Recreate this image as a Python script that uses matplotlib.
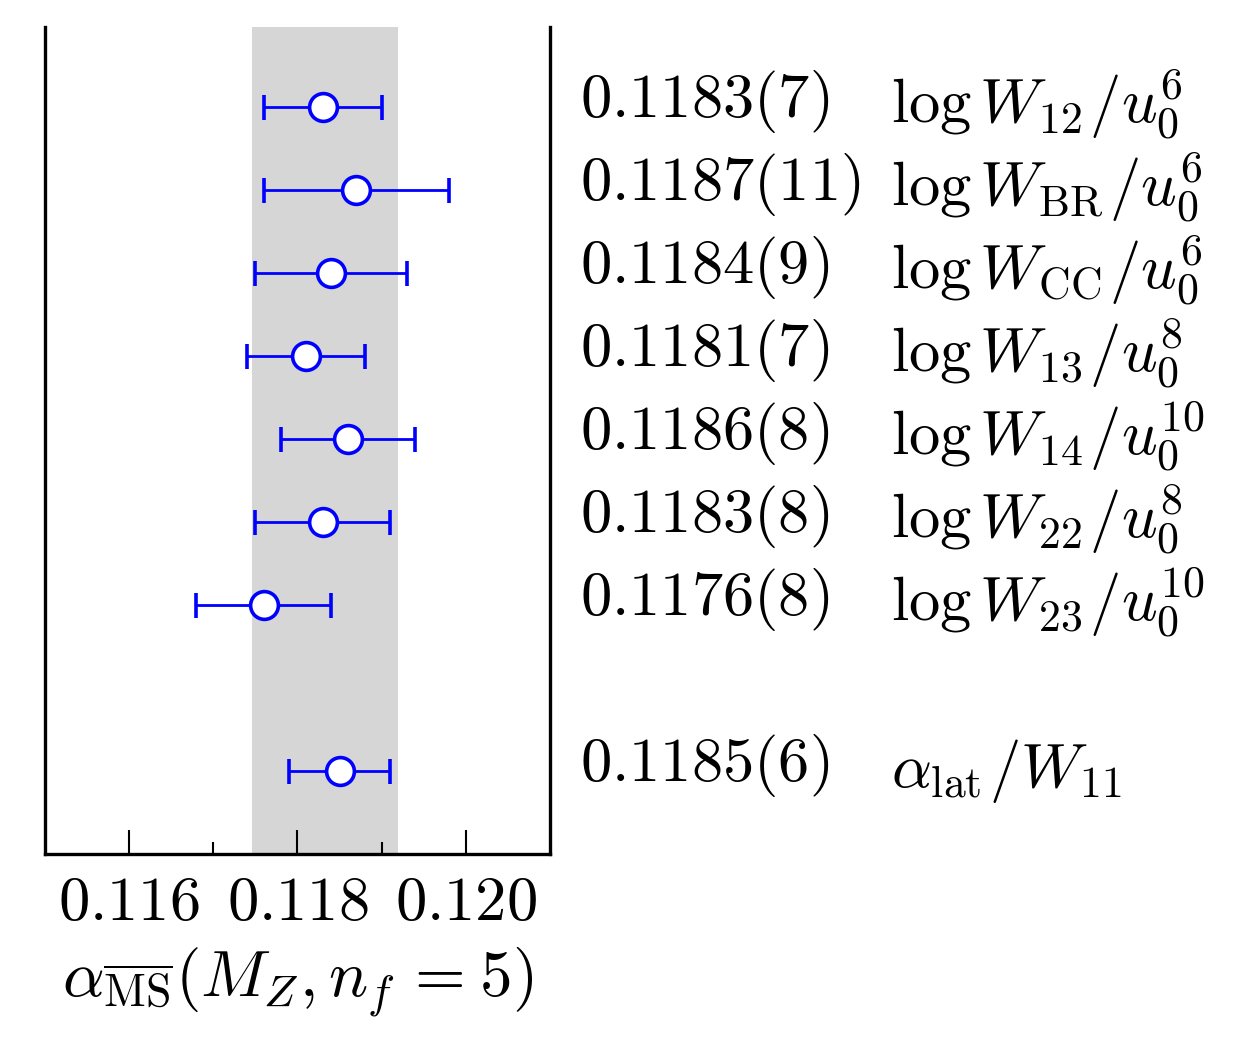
import matplotlib
matplotlib.use("Agg")
import matplotlib.pyplot as plt
import matplotlib.transforms as mtransforms

plt.rcParams['mathtext.fontset'] = 'cm'
plt.rcParams['font.family'] = ['DejaVu Serif']

# data
values = [0.1183, 0.1187, 0.1184, 0.1181, 0.1186, 0.1183, 0.1176, 0.1185]
errors = [0.0007, 0.0011, 0.0009, 0.0007, 0.0008, 0.0008, 0.0008, 0.0006]
rows = [9, 8, 7, 6, 5, 4, 3, 1]
value_labels = [r'$0.1183(7)$', r'$0.1187(11)$', r'$0.1184(9)$', r'$0.1181(7)$',
                r'$0.1186(8)$', r'$0.1183(8)$', r'$0.1176(8)$', r'$0.1185(6)$']
names = [r'$\log W_{12}\hspace{0.06}/u_0^6$', r'$\log W_{\mathrm{BR}}\hspace{0.06}/u_0^6$',
         r'$\log W_{\mathrm{CC}}\hspace{0.06}/u_0^6$', r'$\log W_{13}\hspace{0.06}/u_0^8$',
         r'$\log W_{14}\hspace{0.06}/u_0^{10}$', r'$\log W_{22}\hspace{0.06}/u_0^8$',
         r'$\log W_{23}\hspace{0.06}/u_0^{10}$', r'$\alpha_{\mathrm{lat}}\hspace{0.06}/W_{11}$']
band = (0.11746, 0.11919)
major_ticks = [0.116, 0.118, 0.120]
tick_labels = ['0.116', '0.118', '0.120']
minor_ticks = [0.117, 0.119]


def main():
    fig = plt.figure(figsize=(12.55, 10.37), dpi=100)
    ax = fig.add_axes([45 / 1255, 183 / 1037, 505 / 1255, 827 / 1037])

    ax.axvspan(band[0], band[1], color='#d6d6d6', lw=0, zorder=0)
    ax.errorbar(values, rows, xerr=errors, fmt='o', color='#0000ff',
                mfc='white', mec='#0000ff', ms=20, mew=2.6,
                elinewidth=2.0, capsize=9, capthick=2.0, zorder=3)

    ax.set_xlim(0.115, 0.121)
    ax.set_ylim(0, 827 / 83)
    ax.set_yticks([])
    ax.set_xticks(major_ticks, labels=['$' + t + '$' for t in tick_labels])
    ax.set_xticks(minor_ticks, minor=True)
    ax.tick_params(axis='x', which='major', direction='in', length=17,
                   width=1.5, labelsize=45, pad=13)
    ax.tick_params(axis='x', which='minor', direction='in', length=8.5,
                   width=1.5)
    ax.spines['top'].set_visible(False)
    for s in ['left', 'right', 'bottom']:
        ax.spines[s].set_linewidth(2.4)

    ax.set_xlabel(r'$\alpha_{\overline{\mathrm{MS}}}(M_Z,n_f\hspace{0.15}{=}\hspace{0.06}5)$',
                  fontsize=47, labelpad=9)

    trans = mtransforms.blended_transform_factory(fig.transFigure, ax.transData)
    for y, v, n in zip(rows, value_labels, names):
        ax.text(580 / 1255, y - 0.12, v, transform=trans, fontsize=45,
                ha='left', va='baseline', clip_on=False)
        ax.text(891 / 1255, y - 0.19, n, transform=trans, fontsize=45,
                ha='left', va='baseline', clip_on=False)

    fig.savefig('out.png', dpi=100)


if __name__ == '__main__':
    main()
